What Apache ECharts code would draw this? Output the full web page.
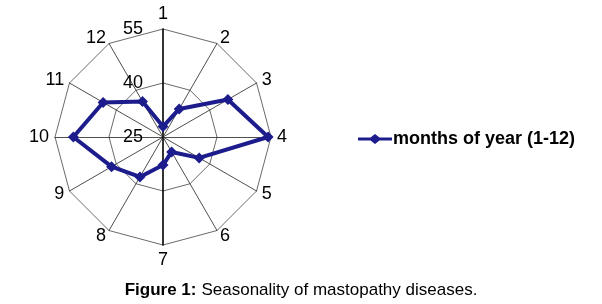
<!DOCTYPE html>
<html><head><meta charset="utf-8">
<script src="https://cdn.jsdelivr.net/npm/echarts@6/dist/echarts.min.js"></script>
<style>html,body{margin:0;padding:0;background:#fff}#c{width:602px;height:304px}</style>
</head><body><div id="c"></div>
<script>
var months = ['1','2','3','4','5','6','7','8','9','10','11','12'];
var values = [27.9, 34.0, 45.8, 54.2, 36.6, 29.8, 32.8, 37.8, 41.5, 49.9, 44.2, 36.4];
var seriesName = 'months of year (1-12)';
var axisMin = 25, axisMax = 55;

// ECharts radar runs counter-clockwise; reorder so months run clockwise
var order = [0];
for (var k = months.length - 1; k >= 1; k--) order.push(k);

var chart = echarts.init(document.getElementById('c'), null, {renderer: 'canvas'});
var labelStyle = {color: '#000', fontSize: 18, fontFamily: 'Liberation Sans, Arial', margin: 20, align: 'right'};
var indicators = order.map(function (i, pos) {
  var ind = {name: months[i], min: axisMin, max: axisMax};
  if (pos === 0) {
    ind.axisLabel = Object.assign({show: true}, labelStyle);
  }
  if (i === 0 || i === 6) {
    ind.axisLine = {lineStyle: {color: '#000', width: 1.6}};
  }
  return ind;
});
var orderedValues = order.map(function (i) { return values[i]; });

chart.setOption({
  animation: false,
  textStyle: {fontFamily: 'Liberation Sans, Arial'},
  title: {
    text: '{b|Figure 1:} {n|Seasonality of mastopathy diseases.}',
    left: 'center', top: 276,
    textStyle: {rich: {
      b: {fontWeight: 'bold', fontSize: 17, color: '#000', fontFamily: 'Liberation Sans, Arial'},
      n: {fontWeight: 'normal', fontSize: 17, color: '#000', fontFamily: 'Liberation Sans, Arial'}
    }}
  },
  legend: {
    data: [seriesName], left: 353, top: 125, orient: 'vertical',
    itemWidth: 34, itemHeight: 10, itemGap: 4,
    icon: 'path://M0,3.5 L12.5,3.5 L17,0 L21.5,3.5 L34,3.5 L34,6.5 L21.5,6.5 L17,10 L12.5,6.5 L0,6.5 Z',
    textStyle: {fontWeight: 'bold', fontSize: 18, color: '#000', fontFamily: 'Liberation Sans, Arial', padding: [0,0,0,-4]}
  },
  radar: {
    center: [163, 137], radius: 108, shape: 'polygon', splitNumber: 2,
    startAngle: 90, indicator: indicators,
    axisName: {color: '#000', fontSize: 18, fontFamily: 'Liberation Sans, Arial'},
    nameGap: 6,
    axisLine: {lineStyle: {color: '#222', width: 0.8}},
    splitLine: {lineStyle: {color: '#444', width: 0.8}},
    splitArea: {show: false},
    axisLabel: Object.assign({show: false}, labelStyle)
  },
  series: [{
    type: 'radar', name: seriesName,
    symbol: 'diamond', symbolSize: 11,
    lineStyle: {color: '#1c1c8c', width: 4},
    itemStyle: {color: '#1c1c8c'},
    data: [{value: orderedValues, name: seriesName}]
  }]
});
</script></body></html>
